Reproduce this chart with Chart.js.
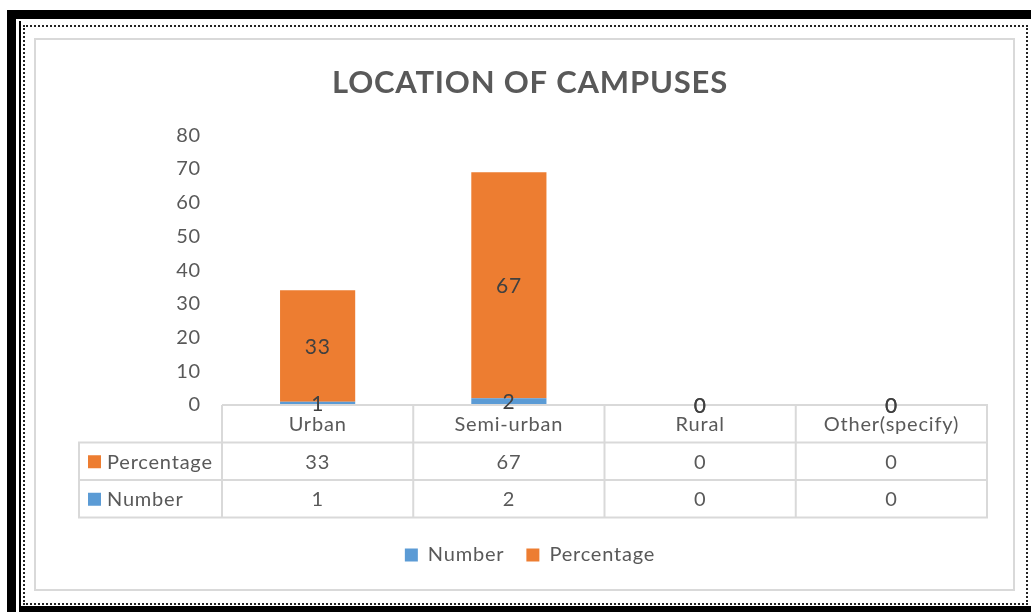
<!DOCTYPE html>
<html><head><meta charset="utf-8">
<script src="https://cdn.jsdelivr.net/npm/chart.js@4.4.1/dist/chart.umd.min.js"></script>
<style>
html,body{margin:0;padding:0;background:#fff;}
body{width:1031px;height:612px;position:relative;overflow:hidden;}
.b{position:absolute;background:#000;}
#dash{position:absolute;left:23px;top:25px;width:1001px;height:576px;border:2px dotted #222;}
#inner{position:absolute;left:34px;top:38px;width:977px;height:549px;border:2px solid #d9d9d9;}
#c{position:absolute;left:0;top:0;}
</style></head><body>
<div class="b" style="left:7px;top:10px;width:1024px;height:9px"></div>
<div class="b" style="left:7px;top:10px;width:9px;height:602px"></div>
<div class="b" style="left:19px;top:21px;width:2px;height:591px"></div>
<div class="b" style="left:19px;top:606px;width:1012px;height:6px"></div>
<div id="dash"></div>
<div id="inner"></div>
<canvas id="c" width="1031" height="612"></canvas>
<script>
const categories = ['Urban', 'Semi-urban', 'Rural', 'Other(specify)'];
const numberValues = [1, 2, 0, 0];
const percentageValues = [33, 67, 0, 0];
const yMax = 80;
const yStep = 10;
const titleText = 'LOCATION OF CAMPUSES';

const BLUE = '#5B9BD5', ORANGE = '#ED7D31';
const FONT = 'Lato, "Open Sans", sans-serif';
const SPACING = '0.8px';

const spacingPlugin = {
  id: 'spacing',
  beforeLayout(chart) { chart.ctx.letterSpacing = SPACING; },
  beforeDraw(chart) { chart.ctx.letterSpacing = SPACING; }
};

const tablePlugin = {
  id: 'tableAndLabels',
  afterDraw(chart) {
    const {ctx, chartArea: ca, scales: {x}} = chart;
    const n = categories.length;
    const colW = (ca.right - ca.left) / n;
    const top = ca.bottom;
    const rowH = 37.5;
    const tableLeft = 79;
    ctx.save();
    ctx.letterSpacing = SPACING;
    ctx.strokeStyle = '#d9d9d9';
    ctx.lineWidth = 2;
    ctx.beginPath();
    ctx.moveTo(ca.left, top); ctx.lineTo(ca.right + 1, top);
    for (let r = 1; r <= 3; r++) {
      const y = top + r * rowH;
      ctx.moveTo(tableLeft - 1, y); ctx.lineTo(ca.right + 1, y);
    }
    for (let i = 0; i <= n; i++) {
      const xx = ca.left + i * colW;
      ctx.moveTo(xx, top); ctx.lineTo(xx, top + 3 * rowH);
    }
    ctx.moveTo(tableLeft, top + rowH); ctx.lineTo(tableLeft, top + 3 * rowH);
    ctx.stroke();

    ctx.font = '20px ' + FONT;
    ctx.fillStyle = '#595959';
    ctx.textAlign = 'center';
    ctx.textBaseline = 'middle';
    categories.forEach((c, i) => {
      ctx.fillText(c, x.getPixelForValue(i), top + rowH / 2 + 1);
    });
    const rows = [
      {label: 'Percentage', color: ORANGE, values: percentageValues},
      {label: 'Number', color: BLUE, values: numberValues}
    ];
    rows.forEach((row, r) => {
      const cy = top + (r + 1) * rowH + rowH / 2 + 1;
      ctx.fillStyle = row.color;
      ctx.fillRect(88, cy - 7, 13, 13);
      ctx.fillStyle = '#595959';
      ctx.textAlign = 'left';
      ctx.fillText(row.label, 107, cy);
      ctx.textAlign = 'center';
      row.values.forEach((v, i) => {
        ctx.fillText(String(v), x.getPixelForValue(i), cy);
      });
    });

    // data labels
    ctx.fillStyle = '#404040';
    ctx.font = '21px ' + FONT;
    chart.data.datasets.forEach((ds, d) => {
      const meta = chart.getDatasetMeta(d);
      meta.data.forEach((el, i) => {
        const cy = (el.y + el.base) / 2;
        ctx.fillText(String(ds.data[i]), el.x, cy + 1);
      });
    });
    ctx.restore();
  }
};

new Chart(document.getElementById('c'), {
  type: 'bar',
  data: {
    labels: categories,
    datasets: [
      {label: 'Number', data: numberValues, backgroundColor: BLUE, categoryPercentage: 1, barPercentage: 0.393},
      {label: 'Percentage', data: percentageValues, backgroundColor: ORANGE, categoryPercentage: 1, barPercentage: 0.393}
    ]
  },
  options: {
    responsive: false,
    animation: false,
    layout: {padding: {left: 73, right: 44, top: 0, bottom: 37}},
    plugins: {
      title: {
        display: true, text: titleText, color: '#595959',
        font: {family: FONT, size: 31, weight: 'bold'},
        padding: {top: 64, bottom: 34}
      },
      legend: {
        position: 'bottom',
        labels: {
          color: '#595959', boxWidth: 13, boxHeight: 13, padding: 22,
          font: {family: FONT, size: 20}
        }
      },
      tooltip: {enabled: false}
    },
    scales: {
      x: {
        stacked: true,
        grid: {display: false, drawTicks: false},
        border: {display: false},
        ticks: {display: false},
        afterFit(s) { s.height = 118; }
      },
      y: {
        stacked: true,
        min: 0, max: yMax,
        grid: {display: false, drawTicks: false},
        border: {display: false},
        ticks: {stepSize: yStep, color: '#595959', padding: 21, font: {family: FONT, size: 20}},
        afterFit(s) { s.width = 149; }
      }
    }
  },
  plugins: [spacingPlugin, tablePlugin]
});
</script>
</body></html>
